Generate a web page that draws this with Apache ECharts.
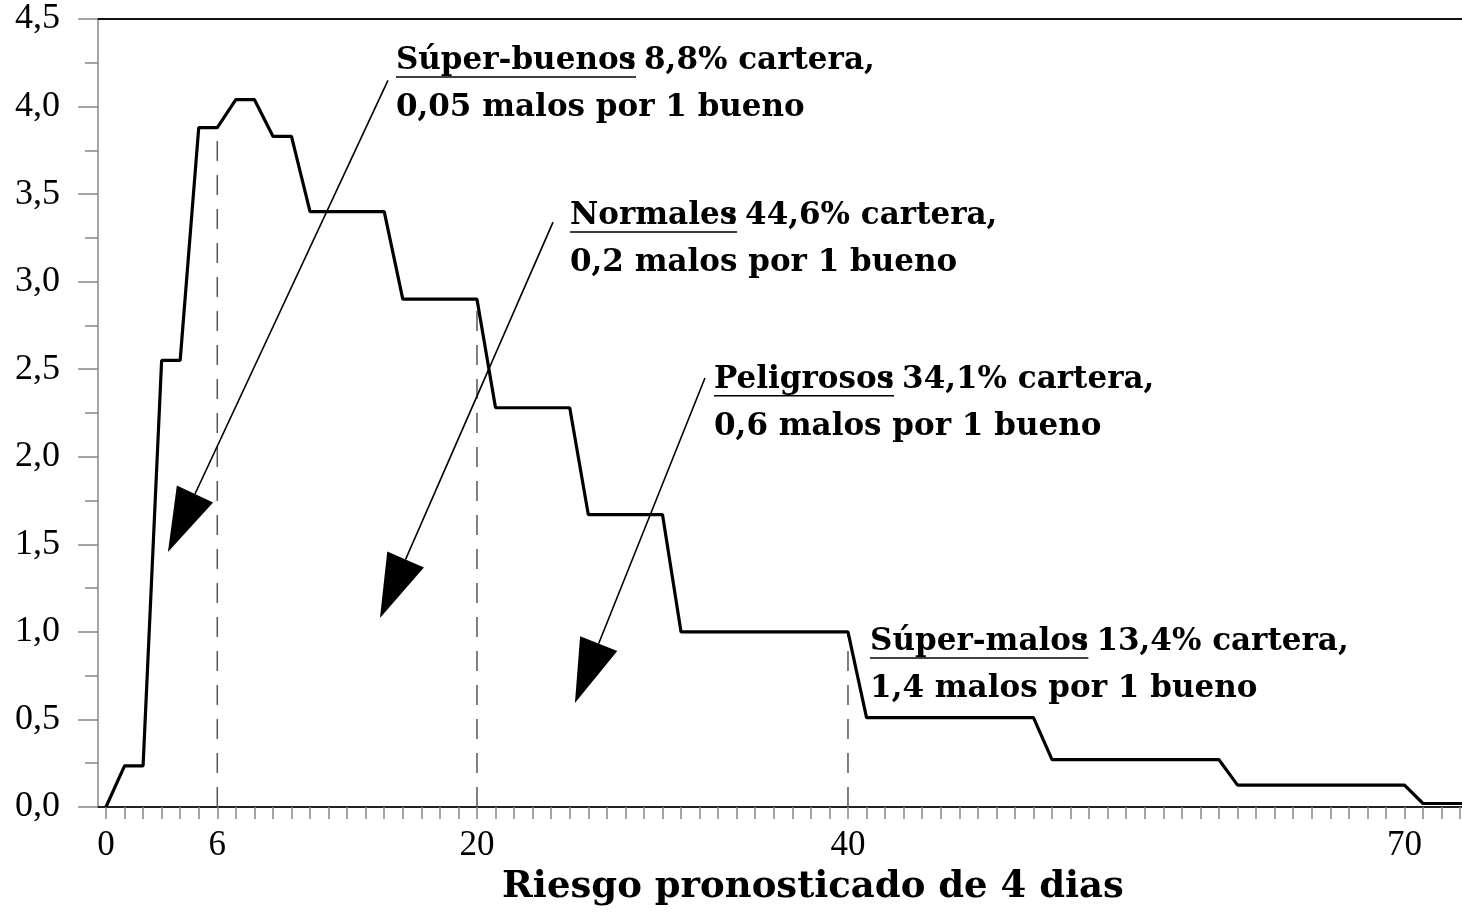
<!DOCTYPE html>
<html>
<head>
<meta charset="utf-8">
<script src="https://cdn.jsdelivr.net/npm/echarts@6/dist/echarts.min.js"></script>
<style>
  html, body { margin: 0; padding: 0; background: #fff; }
  #chart { width: 1462px; height: 912px; }
</style>
</head>
<body>
<div id="chart"></div>
<script>
// ---- data ----
const xVals = [0, 1, 2, 3, 4, 5, 6, 7, 8, 9, 10, 11, 15, 16, 20, 21, 25, 26, 30, 31, 40, 41, 50, 51, 60, 61, 70, 71, 73.1];
const yVals = [0, 0.235, 0.235, 2.55, 2.55, 3.88, 3.88, 4.04, 4.04, 3.83, 3.83, 3.4, 3.4, 2.9, 2.9, 2.28, 2.28, 1.67, 1.67, 1.0, 1.0, 0.51, 0.51, 0.27, 0.27, 0.125, 0.125, 0.02, 0.02];

const xLabelValues = [0, 6, 20, 40, 70];
const xTickValues = Array.from({ length: 74 }, (_, i) => i);

const dashX = [6, 20, 40];
const dashTop = [3.88, 2.9, 1.0];

const annLabels = ['Súper-buenos', 'Normales', 'Peligrosos', 'Súper-malos'];
const annShare = ['8,8% cartera,', '44,6% cartera,', '34,1% cartera,', '13,4% cartera,'];
const annRatio = ['0,05 malos por 1 bueno', '0,2 malos por 1 bueno', '0,6 malos por 1 bueno', '1,4 malos por 1 bueno'];
const annX = [15.63, 25.01, 32.78, 41.19];
const annY = [4.26, 3.375, 2.44, 0.942];

const arrowFromX = [15.2, 24.1, 32.29];
const arrowFromY = [4.15, 3.34, 2.45];
const arrowToX = [3.34, 14.77, 25.28];
const arrowToY = [1.456, 1.079, 0.594];

const xTitle = 'Riesgo pronosticado de 4 dias';

// ---- styles ----
const ANN_FONT_SIZE = 31;
const ANN_FONT_FAMILY = '"DejaVu Serif", serif';
const TICK_FONT = '"Liberation Serif", serif';
const measureCtx = document.createElement('canvas').getContext('2d');
function textWidth(t) {
  measureCtx.font = 'bold ' + ANN_FONT_SIZE + 'px ' + ANN_FONT_FAMILY;
  return measureCtx.measureText(t).width;
}
function annText(x, y, t) {
  return {
    type: 'text', x: x, y: y,
    style: { text: t, fill: '#000', fontSize: ANN_FONT_SIZE, fontFamily: ANN_FONT_FAMILY,
             fontWeight: 'bold', align: 'left', verticalAlign: 'middle' }
  };
}

const lineData = xVals.map((x, i) => [x, yVals[i]]);
const dashData = dashX.map((x, i) => [x, dashTop[i]]);
const annData = annX.map((x, i) => [x, annY[i]]);
const arrowData = arrowFromX.map((x, i) => [x, arrowFromY[i], arrowToX[i], arrowToY[i]]);

const chart = echarts.init(document.getElementById('chart'), null, { renderer: 'canvas' });
chart.setOption({
  backgroundColor: '#fff',
  animation: false,
  grid: { left: 98, right: 0, top: 19, bottom: 105, containLabel: false },
  xAxis: [{
    type: 'value', min: -0.43, max: 73.1, position: 'bottom',
    axisLine: { show: true, onZero: false, lineStyle: { color: '#222', width: 2 } },
    axisTick: { show: true, customValues: xTickValues, length: 12, lineStyle: { color: '#888', width: 1.5 } },
    axisLabel: { show: true, customValues: xLabelValues, margin: 21, color: '#000', fontSize: 35, fontFamily: TICK_FONT },
    splitLine: { show: false },
    name: xTitle, nameLocation: 'middle', nameGap: 62,
    nameTextStyle: { color: '#000', fontSize: 37, fontWeight: 'bold', fontFamily: ANN_FONT_FAMILY, padding: [0, 0, 0, 66] }
  }, {
    type: 'value', min: -0.43, max: 73.1, position: 'top',
    axisLine: { show: true, onZero: false, lineStyle: { color: '#111', width: 2 } },
    axisTick: { show: false }, axisLabel: { show: false }, splitLine: { show: false }
  }],
  yAxis: {
    type: 'value', min: 0, max: 4.5, interval: 0.5,
    axisLine: { show: true, onZero: false, lineStyle: { color: '#888', width: 1.5 } },
    axisTick: { show: true, length: 20, lineStyle: { color: '#888', width: 1.5 } },
    minorTick: { show: true, splitNumber: 2, length: 13, lineStyle: { color: '#888', width: 1.5 } },
    axisLabel: { margin: 38, color: '#000', fontSize: 36, fontFamily: TICK_FONT,
                 formatter: v => v.toFixed(1).replace('.', ',') },
    splitLine: { show: false }
  },
  series: [
    {
      type: 'custom', name: 'dashes', z: 1,
      data: dashData, encode: { x: 0, y: 1 },
      renderItem: function (params, api) {
        const top = api.coord([api.value(0), api.value(1)]);
        const bot = api.coord([api.value(0), 0]);
        return { type: 'line', shape: { x1: bot[0], y1: bot[1], x2: top[0], y2: top[1] },
                 style: { stroke: '#555', lineWidth: 1.5, lineDash: [20, 14] } };
      }
    },
    {
      type: 'line', name: 'riesgo', data: lineData, showSymbol: false, symbol: 'none', z: 3,
      lineStyle: { color: '#000', width: 3.2 }, smooth: false
    },
    {
      type: 'custom', name: 'arrows', z: 5,
      data: arrowData, encode: { x: [0, 2], y: [1, 3] },
      renderItem: function (params, api) {
        const a = api.coord([api.value(0), api.value(1)]);
        const t = api.coord([api.value(2), api.value(3)]);
        const dx = t[0] - a[0], dy = t[1] - a[1];
        const len = Math.sqrt(dx * dx + dy * dy);
        const ux = dx / len, uy = dy / len;
        const headLen = 64, headHalf = 20;
        const bx = t[0] - ux * headLen, by = t[1] - uy * headLen;
        const nx = -uy, ny = ux;
        return {
          type: 'group', children: [
            { type: 'line', shape: { x1: a[0], y1: a[1], x2: bx, y2: by }, style: { stroke: '#000', lineWidth: 1.6 } },
            { type: 'polygon', shape: { points: [[t[0], t[1]], [bx + nx * headHalf, by + ny * headHalf], [bx - nx * headHalf, by - ny * headHalf]] },
              style: { fill: '#000' } }
          ]
        };
      }
    },
    {
      type: 'custom', name: 'annotations', z: 6,
      data: annData, encode: { x: 0, y: 1 },
      renderItem: function (params, api) {
        const i = params.dataIndex;
        const p = api.coord([api.value(0), api.value(1)]);
        const w = textWidth(annLabels[i]);
        const cw = textWidth(':');
        return {
          type: 'group', children: [
            annText(p[0], p[1], annLabels[i]),
            annText(p[0] + w - cw * 0.9, p[1], ':'),
            { type: 'line', shape: { x1: p[0], y1: p[1] + 16, x2: p[0] + w, y2: p[1] + 16 }, style: { stroke: '#000', lineWidth: 1.5 } },
            annText(p[0] + w + 8, p[1], annShare[i]),
            annText(p[0], p[1] + 47, annRatio[i])
          ]
        };
      }
    }
  ]
});
</script>
</body>
</html>
